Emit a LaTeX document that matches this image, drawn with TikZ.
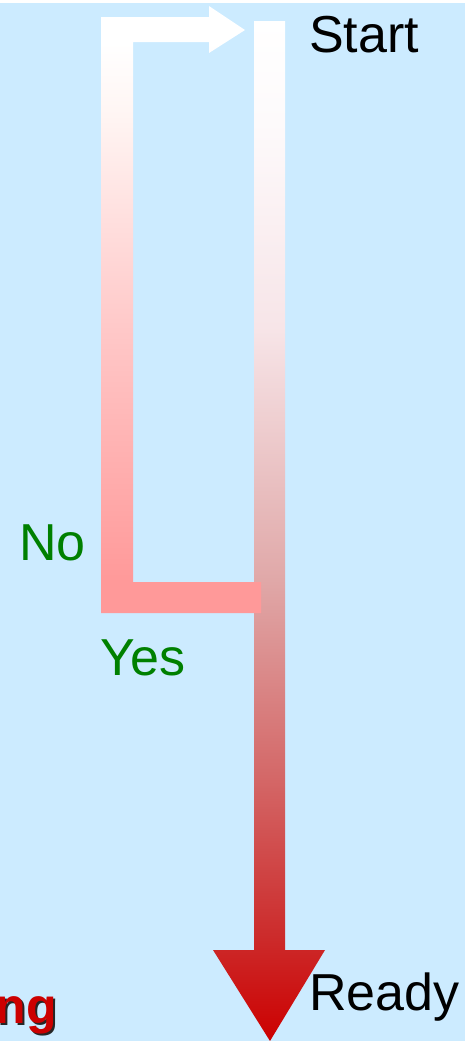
\documentclass[tikz,border=0pt]{standalone}
\usepackage{fontspec}
\setmainfont{Liberation Sans}
\usepackage{tikz}
\definecolor{bgblue}{HTML}{CCEBFF}
\definecolor{loopred}{HTML}{FF9999}
\definecolor{flowred}{HTML}{CC0000}
\definecolor{labgreen}{HTML}{008000}
\definecolor{flowA}{HTML}{CC2A2A}
\definecolor{flowB}{HTML}{D46868}
\definecolor{flowC}{HTML}{E0A8A8}
\definecolor{flowD}{HTML}{F7E5E8}
\definecolor{flowE}{HTML}{FDFAFB}
\definecolor{loopA}{HTML}{FFC8C8}
\definecolor{loopB}{HTML}{FFF5F3}
\pgfdeclareverticalshading{mainflow}{100bp}{color(0bp)=(flowred); color(25bp)=(flowred);
  color(30bp)=(flowA); color(38bp)=(flowB); color(47.6bp)=(flowC); color(60bp)=(flowD);
  color(70bp)=(flowE); color(75bp)=(white); color(100bp)=(white)}
\pgfdeclareverticalshading{loopflow}{100bp}{color(0bp)=(loopred); color(27.5bp)=(loopred);
  color(48.3bp)=(loopA); color(66bp)=(loopB); color(72bp)=(white); color(100bp)=(white)}

\begin{document}
\begin{tikzpicture}[x=1bp, y=-1bp,
  lab/.style={font=\fontsize{52bp}{56bp}\selectfont, inner sep=0pt, anchor=base west},
  yesno/.style={lab, text=labgreen},
  big/.style={font=\fontsize{50bp}{54bp}\selectfont\bfseries, inner sep=0pt, anchor=base east}]
\useasboundingbox (0,0) rectangle (468,1041);
\fill[bgblue] (0,3) rectangle (465,1041);
% main flow, start to ready
\shade[shading=mainflow] (254,21) -- (285,21) -- (285,950) -- (325,950) -- (270,1041)
  -- (213,950) -- (254,950) -- cycle;
% loop back on "No"
\shade[shading=loopflow] (261,582) -- (261,613) -- (101,613) -- (101,17)
  -- (209,17) -- (209,6) -- (245,30) -- (209,53) -- (209,42) -- (133,42) -- (133,582) -- cycle;
\node[lab] (start) at (309,52) {Start};
\node[lab] (ready) at (309,1010) {Ready};
\node[yesno] (no) at (19,560) {No};
\node[yesno] (yes) at (100,675) {Yes};
\node[big, text=black!85] (ngshadow) at (59,1025) {ng};
\node[big, text=flowred] (ng) at (57,1023) {ng};
\end{tikzpicture}
\end{document}
